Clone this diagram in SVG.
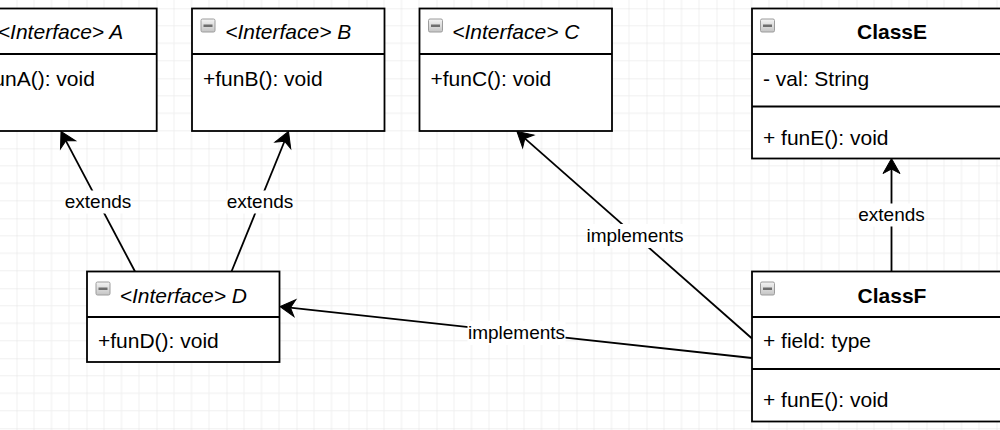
<svg xmlns="http://www.w3.org/2000/svg" width="1000" height="430" viewBox="0 0 1000 430">
<style>
.box{fill:#fff;stroke:#000;stroke-width:1.8}
.sep{stroke:#000;stroke-width:1.8;fill:none}
.title{font-family:"Liberation Sans",Arial,sans-serif;font-size:21px;font-style:italic;fill:#000;text-anchor:middle}
.btitle{font-family:"Liberation Sans",Arial,sans-serif;font-size:21px;font-weight:bold;fill:#000;text-anchor:middle}
.member{font-family:"Liberation Sans",Arial,sans-serif;font-size:21px;fill:#000}
.edge{stroke:#000;stroke-width:1.8;fill:none;marker-end:url(#arrow)}
.lbl{font-family:"Liberation Sans",Arial,sans-serif;font-size:19px;fill:#000;text-anchor:middle}
.lblbg{fill:#fff}
.iconbox{fill:url(#ig);stroke:#9c9c9c;stroke-width:1}
.icondash{fill:#6e6e6e}
</style>
<defs>
<pattern id="grid" patternUnits="userSpaceOnUse" x="16.5" y="8.3" width="70" height="70">
<rect width="70" height="70" fill="#fff"/>
<path d="M17.5 0V70M35 0V70M52.5 0V70M0 17.5H70M0 35H70M0 52.5H70" stroke="#f0f0f0" stroke-width="1"/>
<path d="M0 0V70M0 0H70" stroke="#e2e2e2" stroke-width="1"/>
</pattern>
<linearGradient id="ig" x1="0" y1="0" x2="0" y2="1">
<stop offset="0" stop-color="#f4f4f4"/>
<stop offset="1" stop-color="#c4c4c4"/>
</linearGradient>
<marker id="arrow" markerUnits="userSpaceOnUse" viewBox="-6 -10 17 20" markerWidth="17" markerHeight="20" refX="0" refY="0" orient="auto" overflow="visible">
<path d="M10 0L-5 -8.5L-0.5 0L-5 8.5Z" fill="#000" stroke="#000" stroke-width="1" stroke-linejoin="miter"/>
</marker>
<g id="icon">
<rect class="iconbox" x="0.5" y="0.5" width="14" height="13" rx="1.5"/>
<rect class="icondash" x="3" y="6" width="9" height="2.5"/>
</g>
</defs>
<rect width="1000" height="430" fill="url(#grid)"/>

<g id="connectors">
<line class="edge" x1="135" y1="271.5" x2="65.67" y2="140.34"/>
<line class="edge" x1="231.5" y1="271.5" x2="284.73" y2="140.76"/>
<line class="edge" x1="752" y1="338.5" x2="524.5" y2="138.11"/>
<line class="edge" x1="752" y1="358" x2="289.94" y2="307.59"/>
<line class="edge" x1="891.5" y1="271.5" x2="891.5" y2="168.5"/>
<rect class="lblbg" x="64.5" y="190.5" width="67" height="23"/>
<text class="lbl" x="98" y="208">extends</text>
<rect class="lblbg" x="226.5" y="190.5" width="67" height="23"/>
<text class="lbl" x="260" y="208">extends</text>
<rect class="lblbg" x="586" y="224" width="98" height="24"/>
<text class="lbl" x="635" y="242">implements</text>
<rect class="lblbg" x="467.5" y="321" width="98" height="24"/>
<text class="lbl" x="516.5" y="339">implements</text>
<rect class="lblbg" x="858" y="203.5" width="67" height="23"/>
<text class="lbl" x="891.5" y="221">extends</text>
</g>

<g id="nodeA">
<rect class="box" x="-35.8" y="8.5" width="192.5" height="122.5"/>
<line class="sep" x1="-35.8" y1="54" x2="156.7" y2="54"/>
<use href="#icon" x="-27.3" y="18.5"/>
<text class="title" x="60.5" y="39">&lt;Interface&gt; A</text>
<text class="member" x="-24.8" y="86">+funA(): void</text>
</g>

<g id="nodeB">
<rect class="box" x="192" y="8.5" width="192.5" height="122.5"/>
<line class="sep" x1="192" y1="54" x2="384.5" y2="54"/>
<use href="#icon" x="200.5" y="18.5"/>
<text class="title" x="288.3" y="39">&lt;Interface&gt; B</text>
<text class="member" x="203" y="86">+funB(): void</text>
</g>

<g id="nodeC">
<rect class="box" x="419.5" y="8.5" width="192.5" height="122.5"/>
<line class="sep" x1="419.5" y1="54" x2="612" y2="54"/>
<use href="#icon" x="428" y="18.5"/>
<text class="title" x="515.8" y="39">&lt;Interface&gt; C</text>
<text class="member" x="430.5" y="86">+funC(): void</text>
</g>

<g id="nodeE">
<rect class="box" x="752" y="8.5" width="280" height="150"/>
<line class="sep" x1="752" y1="54" x2="1032" y2="54"/>
<line class="sep" x1="752" y1="106.5" x2="1032" y2="106.5"/>
<use href="#icon" x="760" y="18.5"/>
<text class="btitle" x="892" y="39">ClassE</text>
<text class="member" x="763" y="86">- val: String</text>
<text class="member" x="763" y="144.5">+ funE(): void</text>
</g>

<g id="nodeD">
<rect class="box" x="87" y="271.5" width="192.5" height="90.5"/>
<line class="sep" x1="87" y1="317" x2="279.5" y2="317"/>
<use href="#icon" x="95.5" y="281.5"/>
<text class="title" x="183.3" y="302.5">&lt;Interface&gt; D</text>
<text class="member" x="98" y="348">+funD(): void</text>
</g>

<g id="nodeF">
<rect class="box" x="752" y="271.5" width="280" height="150"/>
<line class="sep" x1="752" y1="317" x2="1032" y2="317"/>
<line class="sep" x1="752" y1="369" x2="1032" y2="369"/>
<use href="#icon" x="760" y="281.5"/>
<text class="btitle" x="892" y="302.5">ClassF</text>
<text class="member" x="763" y="348">+ field: type</text>
<text class="member" x="763" y="407">+ funE(): void</text>
</g>
</svg>
